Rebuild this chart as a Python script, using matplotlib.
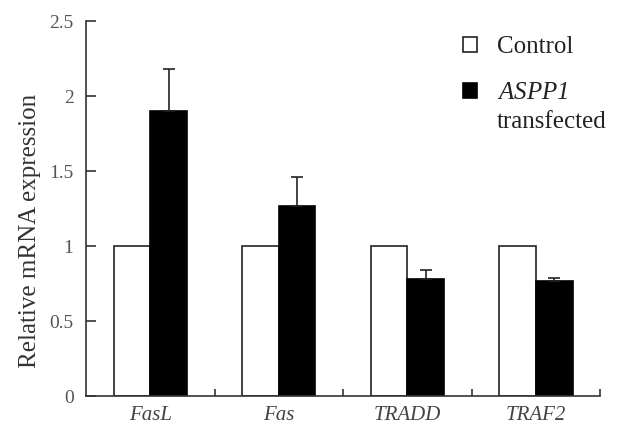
import matplotlib.pyplot as plt
import numpy as np

plt.rcParams['font.family'] = ['Liberation Serif', 'DejaVu Serif']
plt.rcParams['mathtext.fontset'] = 'custom'
plt.rcParams['mathtext.it'] = 'Liberation Serif:italic'
plt.rcParams['mathtext.rm'] = 'Liberation Serif:italic'

genes = ['FasL', 'Fas', 'TRADD', 'TRAF2']
control = [1.0, 1.0, 1.0, 1.0]
aspp1 = [1.90, 1.27, 0.78, 0.77]
aspp1_err = [0.28, 0.19, 0.06, 0.015]

fig = plt.figure(figsize=(6.42, 4.26), dpi=100)
ax = fig.add_axes([0.134, 0.0704, 0.801, 0.880])

x = np.arange(len(genes)) + 0.5
w = 0.284
ax.bar(x - w / 2, control, w, color='white', edgecolor='#222222', linewidth=1.2, label='Control')
ax.bar(x + w / 2, aspp1, w, color='black', edgecolor='black', linewidth=1.2,
       label='$ASPP1$')
ax.errorbar(x + w / 2, aspp1, yerr=[np.zeros(4), aspp1_err], fmt='none',
            ecolor='#222222', elinewidth=1.2, capsize=4, capthick=1.2)

ax.set_xlim(0, 4)
ax.set_ylim(0, 2.5)
ax.set_yticks([0, 0.5, 1, 1.5, 2, 2.5])
ax.set_yticklabels(['0', '0.5', '1', '1.5', '2', '2.5'])
ax.set_xticks(x)
ax.set_xticklabels(genes, fontstyle='italic', fontsize=15, color='#444444')
ax.set_xticks([1, 2, 3, 4], minor=True)
ax.tick_params(axis='x', which='major', length=0, pad=7)
ax.tick_params(axis='x', which='minor', direction='in', length=5, width=1.2, color='#333333')
ax.tick_params(axis='y', direction='in', length=7, width=1.2, color='#333333',
               labelsize=14, labelcolor='#555555', pad=9)
for s in ['top', 'right']:
    ax.spines[s].set_visible(False)
for s in ['left', 'bottom']:
    ax.spines[s].set_linewidth(1.2)
    ax.spines[s].set_color('#333333')

ax.set_ylabel('Relative mRNA expression', fontsize=18, color='#333333')
ax.yaxis.set_label_coords(-0.087, 0.44)

leg = ax.legend(loc='upper left', bbox_to_anchor=(0.69, 1.02), frameon=False,
                fontsize=18, handlelength=0.55, handleheight=0.55, handletextpad=0.8,
                labelspacing=0.95, labelcolor='#222222')
ax.annotate('transfected', xy=(0, 0), xycoords=leg.get_texts()[1],
            xytext=(0, -5), textcoords='offset points', ha='left', va='top',
            fontsize=18, color='#222222', zorder=10)

fig.savefig('out.png', dpi=100)
